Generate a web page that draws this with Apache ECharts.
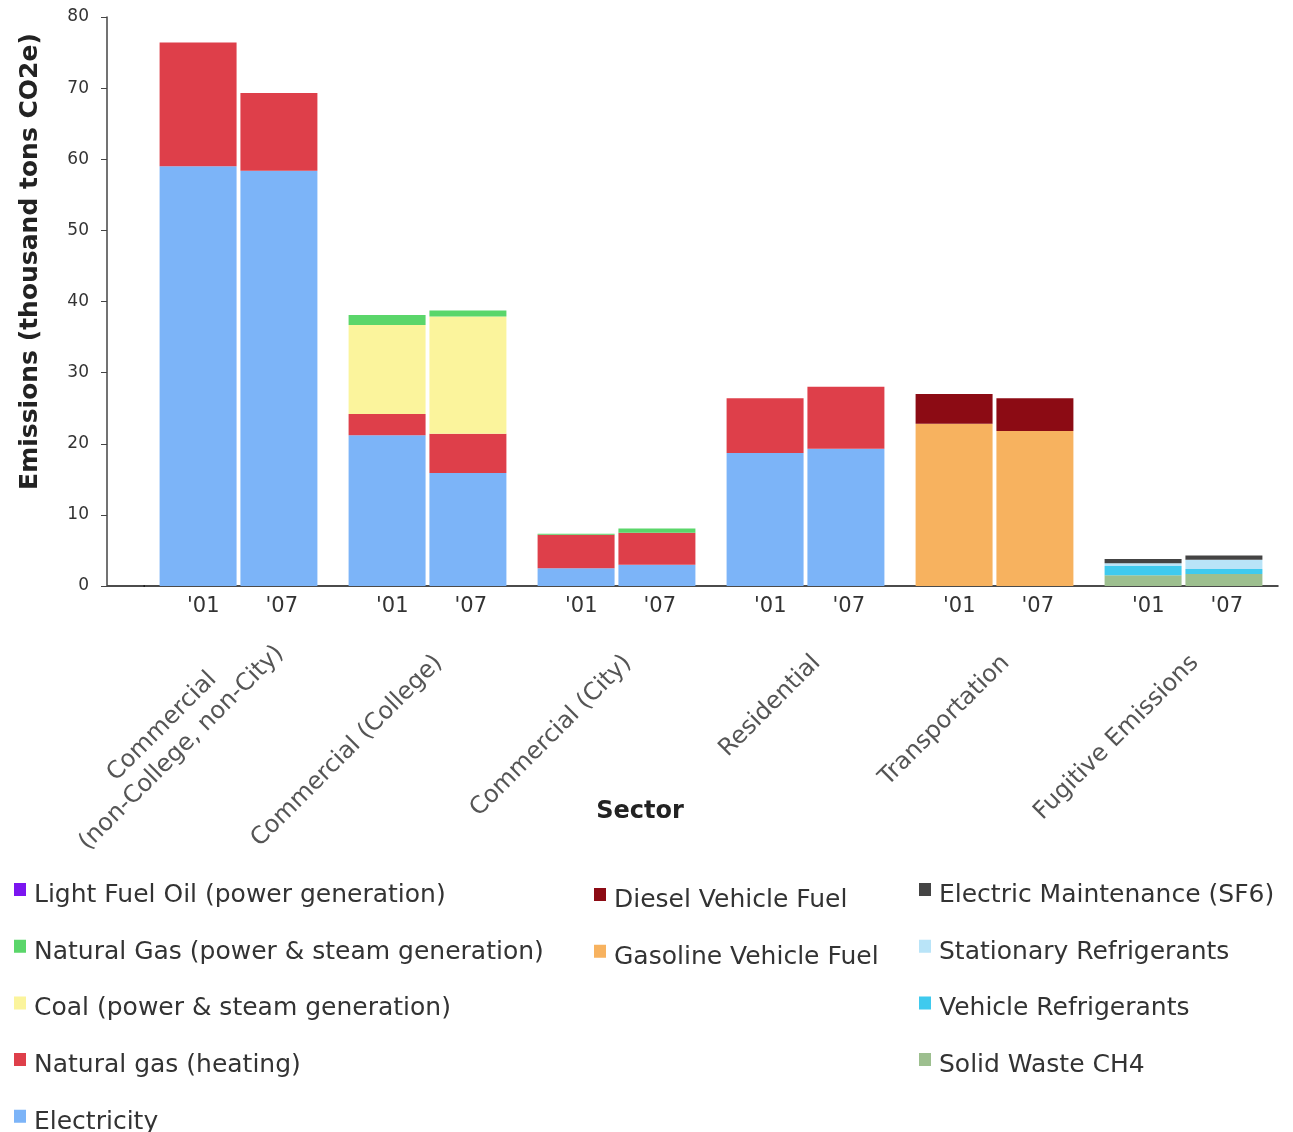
<!DOCTYPE html>
<html>
<head>
<meta charset="utf-8">
<script src="https://cdn.jsdelivr.net/npm/echarts@6/dist/echarts.min.js"></script>
<style>
html,body{margin:0;padding:0;background:#fff;}
#chart{width:1293px;height:1132px;}
</style>
</head>
<body>
<div id="chart"></div>
<script>
// ---- data ----
var sectors = ['Commercial\n(non-College, non-City)', 'Commercial (College)', 'Commercial (City)', 'Residential', 'Transportation', 'Fugitive Emissions'];
var years = ["'01", "'07"];
var yTicks = [0, 10, 20, 30, 40, 50, 60, 70, 80];

var electricity01 = [59.0, 21.2, 2.5, 18.7, 0, 0];
var electricity07 = [58.4, 15.9, 3.0, 19.3, 0, 0];
var ngHeating01   = [17.4, 3.0, 4.7, 7.7, 0, 0];
var ngHeating07   = [10.9, 5.5, 4.5, 8.7, 0, 0];
var coal01        = [0, 12.5, 0, 0, 0, 0];
var coal07        = [0, 16.5, 0, 0, 0, 0];
var ngPower01     = [0, 1.4, 0.15, 0, 0, 0];
var ngPower07     = [0, 0.85, 0.6, 0, 0, 0];
var lightFuelOil01 = [0, 0, 0, 0, 0, 0];
var lightFuelOil07 = [0, 0, 0, 0, 0, 0];
var gasoline01    = [0, 0, 0, 0, 22.8, 0];
var gasoline07    = [0, 0, 0, 0, 21.8, 0];
var diesel01      = [0, 0, 0, 0, 4.2, 0];
var diesel07      = [0, 0, 0, 0, 4.6, 0];
var solidWaste01  = [0, 0, 0, 0, 0, 1.5];
var solidWaste07  = [0, 0, 0, 0, 0, 1.7];
var vehicleRef01  = [0, 0, 0, 0, 0, 1.3];
var vehicleRef07  = [0, 0, 0, 0, 0, 0.7];
var stationaryRef01 = [0, 0, 0, 0, 0, 0.4];
var stationaryRef07 = [0, 0, 0, 0, 0, 1.3];
var sf6_01        = [0, 0, 0, 0, 0, 0.6];
var sf6_07        = [0, 0, 0, 0, 0, 0.6];

var seriesDefs = [
  {name: 'Electricity', color: '#7cb4f8', d01: electricity01, d07: electricity07},
  {name: 'Natural gas (heating)', color: '#de3f4a', d01: ngHeating01, d07: ngHeating07},
  {name: 'Coal (power & steam generation)', color: '#fbf49c', d01: coal01, d07: coal07},
  {name: 'Natural Gas (power & steam generation)', color: '#5ad66a', d01: ngPower01, d07: ngPower07},
  {name: 'Light Fuel Oil (power generation)', color: '#7b16f0', d01: lightFuelOil01, d07: lightFuelOil07},
  {name: 'Gasoline Vehicle Fuel', color: '#f7b25f', d01: gasoline01, d07: gasoline07},
  {name: 'Diesel Vehicle Fuel', color: '#8c0b14', d01: diesel01, d07: diesel07},
  {name: 'Solid Waste CH4', color: '#9dbf8f', d01: solidWaste01, d07: solidWaste07},
  {name: 'Vehicle Refrigerants', color: '#3fcaee', d01: vehicleRef01, d07: vehicleRef07},
  {name: 'Stationary Refrigerants', color: '#b9e4f8', d01: stationaryRef01, d07: stationaryRef07},
  {name: 'Electric Maintenance (SF6)', color: '#444444', d01: sf6_01, d07: sf6_07}
];

var legendCol1 = ['Light Fuel Oil (power generation)', 'Natural Gas (power & steam generation)', 'Coal (power & steam generation)', 'Natural gas (heating)', 'Electricity'];
var legendCol2 = ['Diesel Vehicle Fuel', 'Gasoline Vehicle Fuel'];
var legendCol3 = ['Electric Maintenance (SF6)', 'Stationary Refrigerants', 'Vehicle Refrigerants', 'Solid Waste CH4'];

var yearLabels = [];
sectors.forEach(function () { yearLabels.push(years[0], years[1]); });

var series = [];
seriesDefs.forEach(function (s) {
  [['01', s.d01], ['07', s.d07]].forEach(function (p) {
    series.push({
      name: s.name,
      type: 'bar',
      stack: p[0],
      xAxisIndex: 0,
      data: p[1],
      itemStyle: {color: s.color},
      barGap: '5%',
      barCategoryGap: '16.5%',
      emphasis: {disabled: true}
    });
  });
});

var FONT = 'DejaVu Sans';
// square icon sitting at the top of a taller (transparent) box
var ICON = 'path://M0,0h12v13h-12z M0,25h0.01v0.01h-0.01z';
function legendCfg(data, left, top) {
  return {
    data: data, orient: 'vertical', left: left, top: top, height: 300, padding: 0,
    icon: ICON, itemWidth: 12, itemHeight: 25, itemGap: 31.7,
    selectedMode: false,
    textStyle: {fontFamily: FONT, fontSize: 25, color: '#333', lineHeight: 25, padding: [0, 0, 0, 3]}
  };
}

var NB9 = '\u00a0\u00a0\u00a0\u00a0\u00a0\u00a0\u00a0\u00a0\u00a0';
function sectorLabel(v) {
  var parts = v.split('\n');
  if (parts.length > 1) {
    return '{e|\u00a0}\n{q|' + NB9 + parts[0] + '}\n{q|' + parts[1] + '}';
  }
  return '{p|' + v + '}';
}

var chart = echarts.init(document.getElementById('chart'));
chart.setOption({
  backgroundColor: '#fff',
  animation: false,
  textStyle: {fontFamily: FONT},
  grid: {left: 144, right: 15, top: 17, bottom: 546, containLabel: false},
  legend: [
    legendCfg(legendCol1, 14, 883),
    legendCfg(legendCol2, 594, 888),
    legendCfg(legendCol3, 919, 883)
  ],
  xAxis: [
    {
      type: 'category', data: sectors, position: 'bottom',
      axisLine: {lineStyle: {color: '#111', width: 1.5}},
      axisTick: {show: false}, axisLabel: {show: false}
    },
    {
      type: 'category', data: yearLabels, position: 'bottom',
      axisLine: {show: false}, axisTick: {show: false},
      axisLabel: {
        interval: 0,
        fontFamily: FONT, fontSize: 21, color: '#333', margin: 10,
        formatter: function (v, i) { return (i % 2 === 0 ? '{a|' : '{b|') + v + '}'; },
        rich: {
          a: {fontFamily: FONT, fontSize: 21, color: '#333', padding: [0, 0, 0, 24]},
          b: {fontFamily: FONT, fontSize: 21, color: '#333', padding: [0, 8, 0, 0]}
        }
      }
    },
    {
      type: 'category', data: sectors, position: 'bottom', offset: 54,
      axisLine: {show: false}, axisTick: {show: false},
      axisLabel: {interval: 0, fontFamily: FONT, fontSize: 24, color: '#555', rotate: 45, margin: 8,
        verticalAlign: 'middle', formatter: sectorLabel, width: 250, overflow: 'none',
        rich: {
          p: {fontFamily: FONT, fontSize: 24, color: '#555', lineHeight: 29, padding: [32, 0, 0, 0], align: 'right'},
          q: {fontFamily: FONT, fontSize: 24, color: '#555', lineHeight: 29, align: 'left'},
          e: {fontFamily: FONT, fontSize: 4, color: '#fff', lineHeight: 32}
        }},
      name: 'Sector', nameLocation: 'middle', nameGap: 160, nameMoveOverlap: false,
      nameTextStyle: {fontFamily: FONT, fontSize: 24, fontWeight: 'bold', color: '#222', padding: [0, 142, 0, 0]}
    }
  ],
  yAxis: {
    type: 'value', min: 0, max: 80, interval: 10, offset: 37,
    axisLine: {show: true, lineStyle: {color: '#444', width: 1.5}},
    axisTick: {show: true, length: 6, lineStyle: {color: '#444'}},
    splitLine: {show: false},
    axisLabel: {fontFamily: FONT, fontSize: 17, color: '#333', margin: 18,
      formatter: function (v) { return yTicks.indexOf(v) >= 0 ? String(v) : ''; }},
    name: 'Emissions (thousand tons CO2e)', nameLocation: 'middle', nameGap: 64,
    nameTextStyle: {fontFamily: FONT, fontSize: 25, fontWeight: 'bold', color: '#222', padding: [0, 0, 0, 80]}
  },
  graphic: [{
    type: 'line', shape: {x1: 107, y1: 586, x2: 145, y2: 586},
    style: {stroke: '#111', lineWidth: 1.5}, silent: true
  }],
  series: series
});
</script>
</body>
</html>
